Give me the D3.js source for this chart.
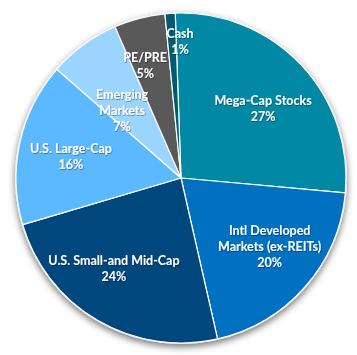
<!DOCTYPE html>
<html>
<head>
<meta charset="utf-8">
<script src="https://cdn.jsdelivr.net/npm/d3@7"></script>
<style>
  html, body { margin: 0; padding: 0; background: #ffffff; }
  svg { display: block; }
  text { font-family: Lato, "Open Sans", sans-serif; font-weight: bold; fill: #ffffff; }
</style>
</head>
<body>
<svg id="chart" width="357" height="355"></svg>
<script>
const categories = ["Mega-Cap Stocks", "Intl Developed Markets (ex-REITs)", "U.S. Small-and Mid-Cap", "U.S. Large-Cap", "Emerging Markets", "PE/PRE", "Cash"];
const values = [27, 20, 24, 16, 7, 5, 1];
const labelLines = [["Mega-Cap Stocks"], ["Intl Developed", "Markets (ex-REITs)"], ["U.S. Small-and Mid-Cap"], ["U.S. Large-Cap"], ["Emerging", "Markets"], ["PE/PRE"], ["Cash"]];
const colors = ["#0088A5", "#0070C0", "#00477D", "#5DB9FF", "#9BD4FF", "#595959", "#005B70"];

const svg = d3.select("#chart");
const cx = 181, cy = 178, r = 165;

const defs = svg.append("defs");
const f = defs.append("filter").attr("id", "shadow").attr("x", "-20%").attr("y", "-20%").attr("width", "140%").attr("height", "140%");
f.append("feDropShadow").attr("dx", 0).attr("dy", 3).attr("stdDeviation", 3.5).attr("flood-color", "#000").attr("flood-opacity", 0.55);

const tf = defs.append("filter").attr("id", "tshadow").attr("x", "-10%").attr("y", "-30%").attr("width", "120%").attr("height", "160%");
tf.append("feDropShadow").attr("dx", 0.6).attr("dy", 0.8).attr("stdDeviation", 0.6).attr("flood-color", "#000").attr("flood-opacity", 0.45);

const startOffset = -2 * Math.PI / 180;
const pie = d3.pie().sort(null).value(d => d)
  .startAngle(startOffset).endAngle(2 * Math.PI + startOffset);
const arcs = pie(values);
const arc = d3.arc().innerRadius(0).outerRadius(r);

const g = svg.append("g").attr("transform", `translate(${cx},${cy})`);

g.append("circle").attr("r", r + 1).attr("fill", "#e8e8e8").attr("filter", "url(#shadow)");

g.selectAll("path.slice").data(arcs).enter().append("path")
  .attr("class", "slice")
  .attr("d", arc)
  .attr("fill", (d, i) => colors[i])
  .attr("stroke", "#ffffff")
  .attr("stroke-width", 1.2)
  .attr("stroke-linejoin", "round");

// label placement: fraction of radius, and angular shift (deg) from the slice mid-angle
const labelRadius = [0.65, 0.68, 0.685, 0.68, 0.545, 0.715, 0.83];
const labelShift = [3.3, -3.4, 6, -1.1, -4.7, -3.1, 3.4];
const lineH = 16;
const lab = g.selectAll("g.lab").data(arcs).enter().append("g").attr("class", "lab")
  .attr("filter", "url(#tshadow)")
  .attr("transform", (d, i) => {
    const a = (d.startAngle + d.endAngle) / 2 + labelShift[i] * Math.PI / 180;
    const rr = r * labelRadius[i];
    return `translate(${Math.sin(a) * rr},${-Math.cos(a) * rr})`;
  });
lab.each(function(d, i) {
  const lines = labelLines[i].concat([values[i] + "%"]);
  const n = lines.length;
  const sel = d3.select(this);
  lines.forEach((t, k) => {
    sel.append("text")
      .attr("text-anchor", "middle")
      .attr("dominant-baseline", "central")
      .attr("y", (k - (n - 1) / 2) * lineH)
      .attr("font-size", 12.5)
      .text(t);
  });
});
</script>
</body>
</html>
